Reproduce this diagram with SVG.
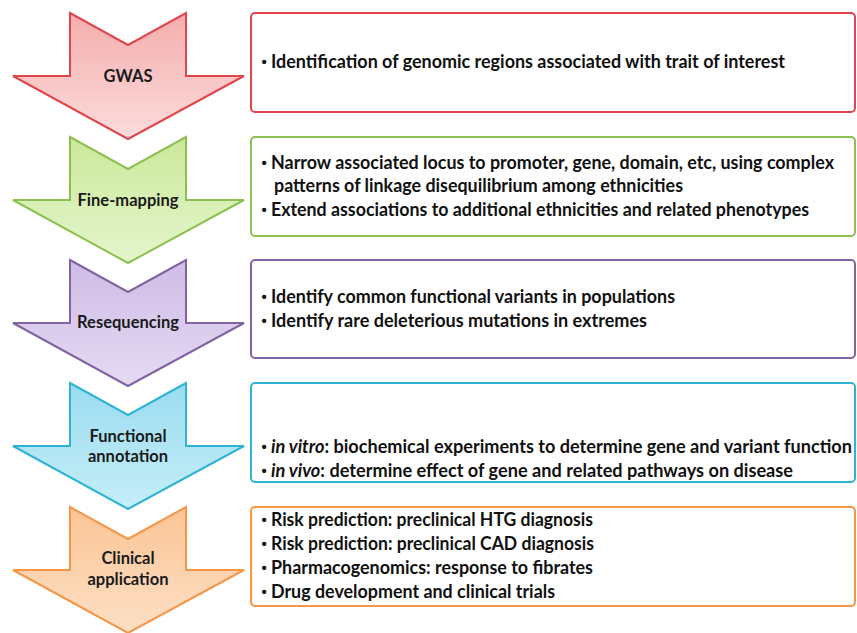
<svg xmlns="http://www.w3.org/2000/svg" width="857" height="633" viewBox="0 0 857 633">
  <style>
    .lbl { font-family: Lato, "Open Sans", "Liberation Sans", sans-serif; font-weight: bold; font-size: 16.5px; fill: #1a1a1a; text-anchor: middle; }
    .txt { font-family: Lato, "Open Sans", "Liberation Sans", sans-serif; font-weight: bold; font-size: 18px; fill: #111; }
    .dot { font-family: "Liberation Sans", sans-serif; font-weight: bold; font-size: 15px; fill: #111; }
    .box { fill: #ffffff; stroke-width: 2; }
    .arrow { stroke-width: 2; stroke-linejoin: miter; }
    .it { font-style: italic; }
  </style>
  <defs>
    <path id="chevron" d="M70,0 L128,32 L186,0 L186,63 L244,63 L128,126 L13,63 L70,63 Z"/>
    <linearGradient id="gRed" x1="0" y1="0" x2="0" y2="1">
      <stop offset="0" stop-color="#f5adad"/>
      <stop offset="1" stop-color="#fcdcdc"/>
    </linearGradient>
    <linearGradient id="gGreen" x1="0" y1="0" x2="0" y2="1">
      <stop offset="0" stop-color="#cbe99b"/>
      <stop offset="1" stop-color="#e4f5cc"/>
    </linearGradient>
    <linearGradient id="gPurple" x1="0" y1="0" x2="0" y2="1">
      <stop offset="0" stop-color="#cfbce6"/>
      <stop offset="1" stop-color="#e5daf3"/>
    </linearGradient>
    <linearGradient id="gBlue" x1="0" y1="0" x2="0" y2="1">
      <stop offset="0" stop-color="#9adcf0"/>
      <stop offset="1" stop-color="#c6eef8"/>
    </linearGradient>
    <linearGradient id="gOrange" x1="0" y1="0" x2="0" y2="1">
      <stop offset="0" stop-color="#fbc495"/>
      <stop offset="1" stop-color="#fde0c6"/>
    </linearGradient>
  </defs>

  <rect width="857" height="633" fill="#ffffff"/>

  <!-- step 1 -->
  <g id="gwas">
    <use href="#chevron" class="arrow" transform="translate(0,13)" fill="url(#gRed)" stroke="#e0474c"/>
    <text class="lbl" x="128" y="82">GWAS</text>
  </g>
  <g id="gwas-notes">
    <rect class="box" x="251" y="13" width="604" height="99" rx="4" stroke="#e0474c"/>
    <text class="dot" x="261.5" y="67">•</text>
    <text class="txt" x="271" y="68" textLength="514" lengthAdjust="spacingAndGlyphs">Identification of genomic regions associated with trait of interest</text>
  </g>

  <!-- step 2 -->
  <g id="fine-mapping">
    <use href="#chevron" class="arrow" transform="translate(0,137)" fill="url(#gGreen)" stroke="#8cc152"/>
    <text class="lbl" x="128" y="206">Fine-mapping</text>
  </g>
  <g id="fine-mapping-notes">
    <rect class="box" x="251" y="137" width="604" height="99" rx="4" stroke="#8cc152"/>
    <text class="dot" x="261.5" y="168">•</text>
    <text class="txt" x="271" y="169" textLength="563" lengthAdjust="spacingAndGlyphs">Narrow associated locus to promoter, gene, domain, etc, using complex</text>
    <text class="txt" x="274" y="192" textLength="409" lengthAdjust="spacingAndGlyphs">patterns of linkage disequilibrium among ethnicities</text>
    <text class="dot" x="261.5" y="215">•</text>
    <text class="txt" x="271" y="216" textLength="538" lengthAdjust="spacingAndGlyphs">Extend associations to additional ethnicities and related phenotypes</text>
  </g>

  <!-- step 3 -->
  <g id="resequencing">
    <use href="#chevron" class="arrow" transform="translate(0,260)" fill="url(#gPurple)" stroke="#8064a2"/>
    <text class="lbl" x="128" y="328">Resequencing</text>
  </g>
  <g id="resequencing-notes">
    <rect class="box" x="251" y="260" width="604" height="98" rx="4" stroke="#8064a2"/>
    <text class="dot" x="261.5" y="302">•</text>
    <text class="txt" x="271" y="303" textLength="404" lengthAdjust="spacingAndGlyphs">Identify common functional variants in populations</text>
    <text class="dot" x="261.5" y="326">•</text>
    <text class="txt" x="271" y="327" textLength="376" lengthAdjust="spacingAndGlyphs">Identify rare deleterious mutations in extremes</text>
  </g>

  <!-- step 4 -->
  <g id="functional-annotation">
    <use href="#chevron" class="arrow" transform="translate(0,383)" fill="url(#gBlue)" stroke="#2fb3d3"/>
    <text class="lbl" x="128" y="442">Functional</text>
    <text class="lbl" x="128" y="462">annotation</text>
  </g>
  <g id="functional-annotation-notes">
    <rect class="box" x="251" y="383" width="604" height="99" rx="4" stroke="#2fb3d3"/>
    <text class="dot" x="261.5" y="452">•</text>
    <text class="txt" x="271" y="453" textLength="581" lengthAdjust="spacingAndGlyphs"><tspan class="it">in vitro</tspan>: biochemical experiments to determine gene and variant function</text>
    <text class="dot" x="261.5" y="476">•</text>
    <text class="txt" x="271" y="477" textLength="522" lengthAdjust="spacingAndGlyphs"><tspan class="it">in vivo</tspan>: determine effect of gene and related pathways on disease</text>
  </g>

  <!-- step 5 -->
  <g id="clinical-application">
    <use href="#chevron" class="arrow" transform="translate(0,507)" fill="url(#gOrange)" stroke="#f79646"/>
    <text class="lbl" x="128" y="564">Clinical</text>
    <text class="lbl" x="128" y="585">application</text>
  </g>
  <g id="clinical-application-notes">
    <rect class="box" x="251" y="507" width="604" height="99" rx="4" stroke="#f79646"/>
    <text class="dot" x="261.5" y="525">•</text>
    <text class="txt" x="271" y="526" textLength="322" lengthAdjust="spacingAndGlyphs">Risk prediction: preclinical HTG diagnosis</text>
    <text class="dot" x="261.5" y="549">•</text>
    <text class="txt" x="271" y="550" textLength="323" lengthAdjust="spacingAndGlyphs">Risk prediction: preclinical CAD diagnosis</text>
    <text class="dot" x="261.5" y="573">•</text>
    <text class="txt" x="271" y="574" textLength="322" lengthAdjust="spacingAndGlyphs">Pharmacogenomics: response to fibrates</text>
    <text class="dot" x="261.5" y="597">•</text>
    <text class="txt" x="271" y="598" textLength="284" lengthAdjust="spacingAndGlyphs">Drug development and clinical trials</text>
  </g>

  <g id="connectors"></g>
</svg>
